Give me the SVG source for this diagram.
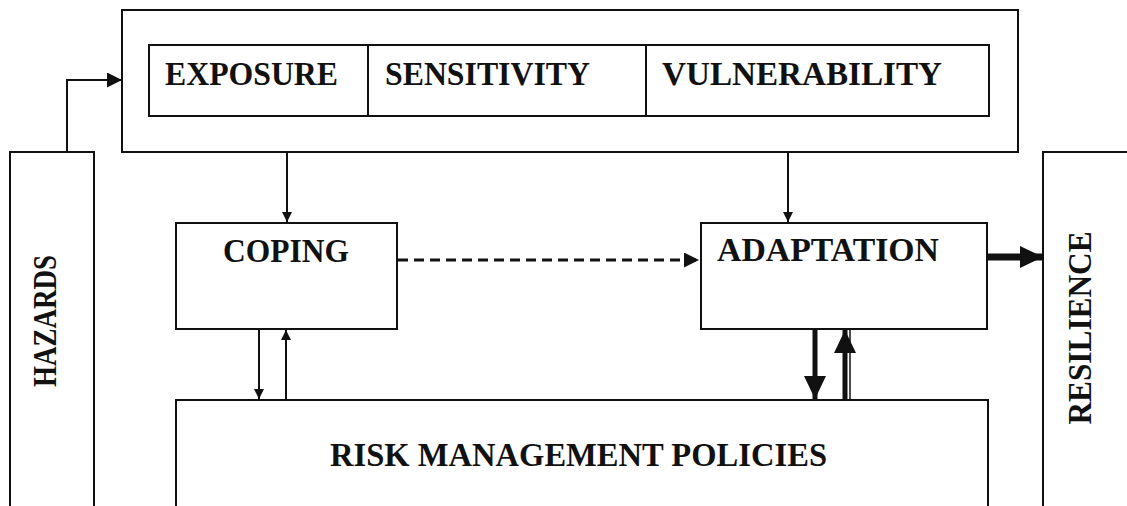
<svg xmlns="http://www.w3.org/2000/svg" width="1127" height="506" viewBox="0 0 1127 506">
<style>
.box{fill:#fff;stroke:#111;stroke-width:2}
.thin{fill:none;stroke:#111;stroke-width:2}
.lbl{font-family:"Liberation Serif","Times New Roman",serif;font-weight:bold;font-size:33px;fill:#111}
</style>
<defs>
<marker id="sm" markerUnits="userSpaceOnUse" markerWidth="10" markerHeight="10" refX="10" refY="5" orient="auto"><path d="M0,0 L10,5 L0,10 z" fill="#111"/></marker>
<marker id="md" markerUnits="userSpaceOnUse" markerWidth="15" markerHeight="15" refX="15" refY="7.5" orient="auto"><path d="M0,0 L15,7.5 L0,15 z" fill="#111"/></marker>
<marker id="lg" markerUnits="userSpaceOnUse" markerWidth="23" markerHeight="22" refX="23" refY="11" orient="auto"><path d="M0,0 L23,11 L0,22 z" fill="#111"/></marker>
</defs>
<rect width="1127" height="506" fill="#fff"/>
<g id="hazards"><rect class="box" x="10" y="152" width="84" height="370"/><text class="lbl" transform="translate(56,321) rotate(-90)" text-anchor="middle" textLength="132" lengthAdjust="spacingAndGlyphs">HAZARDS</text></g>
<g id="resilience"><rect class="box" x="1043" y="152" width="100" height="370"/><text class="lbl" transform="translate(1091,328) rotate(-90)" text-anchor="middle" textLength="193" lengthAdjust="spacingAndGlyphs">RESILIENCE</text></g>
<g id="factors"><rect class="box" x="122" y="10" width="896" height="142"/></g>
<g id="exposure"><rect class="box" x="149" y="45" width="219" height="71"/><text class="lbl" x="165" y="85" textLength="173" lengthAdjust="spacingAndGlyphs">EXPOSURE</text></g>
<g id="sensitivity"><rect class="box" x="368" y="45" width="278" height="71"/><text class="lbl" x="385" y="85" textLength="205" lengthAdjust="spacingAndGlyphs">SENSITIVITY</text></g>
<g id="vulnerability"><rect class="box" x="646" y="45" width="343" height="71"/><text class="lbl" x="662" y="85" textLength="280" lengthAdjust="spacingAndGlyphs">VULNERABILITY</text></g>
<g id="coping"><rect class="box" x="176" y="223" width="221" height="106"/><text class="lbl" x="223" y="262" textLength="126" lengthAdjust="spacingAndGlyphs">COPING</text></g>
<g id="adaptation"><rect class="box" x="701" y="223" width="286" height="106"/><text class="lbl" x="717" y="261" textLength="222" lengthAdjust="spacingAndGlyphs">ADAPTATION</text></g>
<g id="rmp"><rect class="box" x="176" y="400" width="812" height="120"/><text class="lbl" x="330" y="466" textLength="497" lengthAdjust="spacingAndGlyphs">RISK MANAGEMENT POLICIES</text></g>
<g id="connectors">
<polyline class="thin" points="67,152 67,80 122,80" marker-end="url(#md)"/>
<line class="thin" x1="287" y1="152" x2="287" y2="222" marker-end="url(#sm)"/>
<line class="thin" x1="788" y1="152" x2="788" y2="222" marker-end="url(#sm)"/>
<line x1="398" y1="260" x2="699" y2="260" stroke="#111" stroke-width="3" stroke-dasharray="10,6" marker-end="url(#md)"/>
<line class="thin" x1="259" y1="329" x2="259" y2="399" marker-end="url(#sm)"/>
<line class="thin" x1="286" y1="400" x2="286" y2="330" marker-end="url(#sm)"/>
<line x1="815" y1="329" x2="815" y2="399" stroke="#111" stroke-width="5" marker-end="url(#lg)"/>
<line x1="845" y1="400" x2="845" y2="330" stroke="#111" stroke-width="5" marker-end="url(#lg)"/>
<line x1="850" y1="329" x2="850" y2="400" stroke="#111" stroke-width="1.5"/>
<line x1="988" y1="257" x2="1043" y2="257" stroke="#111" stroke-width="7" marker-end="url(#lg)"/>
</g>
</svg>
